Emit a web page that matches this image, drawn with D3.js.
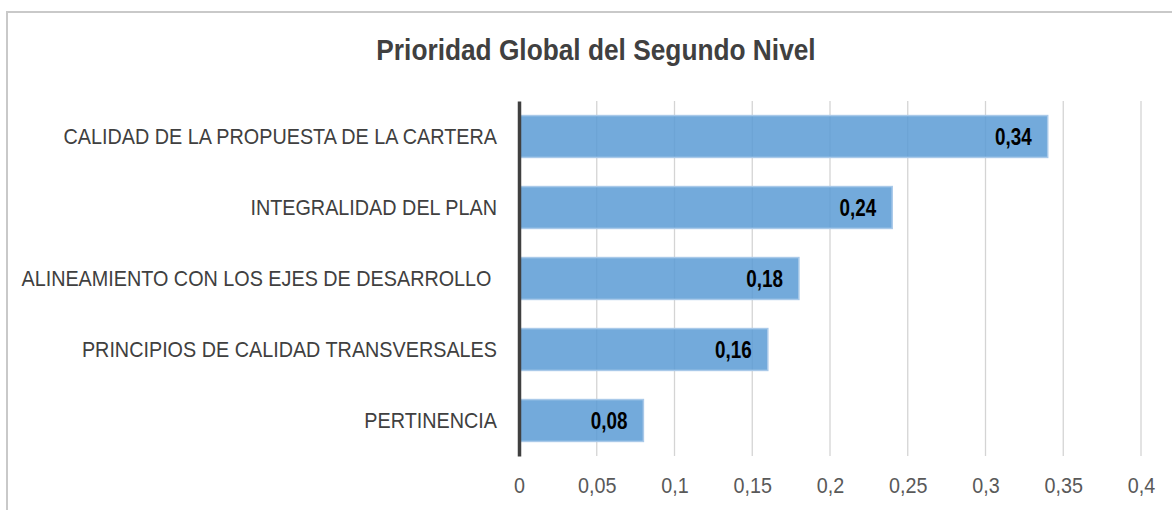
<!DOCTYPE html>
<html lang="es">
  <head>
    <meta charset="UTF-8" />
    <title>Prioridad Global del Segundo Nivel</title>
    <script src="https://d3js.org/d3.v7.min.js"></script>
    <style>
      body {
        margin: 0;
        background: #fff;
      }
      svg text {
        font-family: 'Liberation Sans Narrow', 'Arial Narrow', 'Liberation Sans', sans-serif;
      }
    </style>
  </head>
  <body></body>
  <script type="text/javascript">
    var width = 1172,
      height = 510;

    // datos del gráfico
    var categories = [
      'CALIDAD DE LA PROPUESTA DE LA CARTERA',
      'INTEGRALIDAD DEL PLAN',
      'ALINEAMIENTO CON LOS EJES DE DESARROLLO ',
      'PRINCIPIOS DE CALIDAD TRANSVERSALES',
      'PERTINENCIA'
    ];
    var values = [0.34, 0.24, 0.18, 0.16, 0.08];
    var tickValues = [0, 0.05, 0.1, 0.15, 0.2, 0.25, 0.3, 0.35, 0.4];
    var tickLabels = ['0', '0,05', '0,1', '0,15', '0,2', '0,25', '0,3', '0,35', '0,4'];
    var valueLabels = ['0,34', '0,24', '0,18', '0,16', '0,08'];

    var margin = { top: 101, left: 519, right: 31, bottom: 54 };

    // estrecha el texto horizontalmente (no hay Arial Narrow)
    function condense(sel, k) {
      sel.each(function () {
        var t = d3.select(this);
        var tx = +t.attr('x') || 0,
          ty = +t.attr('y') || 0;
        t.attr('x', 0)
          .attr('y', 0)
          .attr('transform', `translate(${tx},${ty}) scale(${k},1)`);
      });
    }

    var svg = d3
      .select('body')
      .append('svg')
      .attr('width', width)
      .attr('height', height);

    // marco del gráfico
    svg
      .append('rect')
      .attr('x', 7)
      .attr('y', 12)
      .attr('width', width + 10)
      .attr('height', height + 10)
      .attr('fill', 'none')
      .attr('stroke', '#c9c9c9')
      .attr('stroke-width', 2);

    svg
      .append('text')
      .attr('x', 596)
      .attr('y', 60)
      .attr('text-anchor', 'middle')
      .attr('font-size', 30)
      .attr('font-weight', 'bold')
      .attr('fill', '#404040')
      .text('Prioridad Global del Segundo Nivel')
      .call(condense, 0.876);

    var x = d3
      .scaleLinear()
      .domain([0, 0.4])
      .range([margin.left, width - margin.right]);

    var y = d3
      .scaleBand()
      .domain(categories)
      .range([margin.top, height - margin.bottom])
      .paddingInner(0.41)
      .paddingOuter(0.205);

    // líneas de la cuadrícula
    svg
      .append('g')
      .selectAll('line')
      .data(tickValues.slice(1))
      .enter()
      .append('line')
      .attr('x1', d => x(d))
      .attr('x2', d => x(d))
      .attr('y1', margin.top)
      .attr('y2', height - margin.bottom)
      .attr('stroke', '#d4d4d4')
      .attr('stroke-width', 1.3);

    // eje x
    var xAxis = d3
      .axisBottom(x)
      .tickValues(tickValues)
      .tickSize(0)
      .tickPadding(0)
      .tickFormat((d, i) => tickLabels[i]);

    var gx = svg
      .append('g')
      .attr('transform', `translate(0,${height - margin.bottom})`)
      .call(xAxis);
    gx.select('.domain').remove();
    gx.selectAll('text')
      .attr('dy', null)
      .attr('y', 37)
      .attr('font-size', 21.5)
      .attr('fill', '#595959')
      .call(condense, 0.92);

    // barras
    svg
      .append('g')
      .selectAll('rect')
      .data(values)
      .enter()
      .append('rect')
      .attr('x', x(0))
      .attr('y', (d, i) => y(categories[i]))
      .attr('width', d => x(d) - x(0))
      .attr('height', y.bandwidth())
      .attr('fill', '#5b9bd5')
      .attr('fill-opacity', 0.85)
      .attr('stroke', '#a9c9e9')
      .attr('stroke-width', 1.5);

    // etiquetas de valor
    svg
      .append('g')
      .selectAll('text')
      .data(values)
      .enter()
      .append('text')
      .attr('x', d => x(d) - 16)
      .attr('y', (d, i) => y(categories[i]) + y.bandwidth() / 2 + 8.5)
      .attr('text-anchor', 'end')
      .attr('font-size', 23)
      .attr('font-weight', 'bold')
      .attr('fill', '#000')
      .text((d, i) => valueLabels[i])
      .call(condense, 0.82);

    // eje y
    var yAxis = d3.axisLeft(y).tickSize(0).tickPadding(0);
    var gy = svg
      .append('g')
      .attr('transform', `translate(${x(0)},0)`)
      .call(yAxis);
    gy.select('.domain')
      .attr('stroke', '#404040')
      .attr('stroke-width', 3.5);
    gy.selectAll('text')
      .attr('x', -22)
      .attr('y', 0)
      .attr('dy', '0.35em')
      .attr('font-size', 22)
      .attr('fill', '#404040')
      .style('white-space', 'pre')
      .call(condense, 0.9);
  </script>
</html>
